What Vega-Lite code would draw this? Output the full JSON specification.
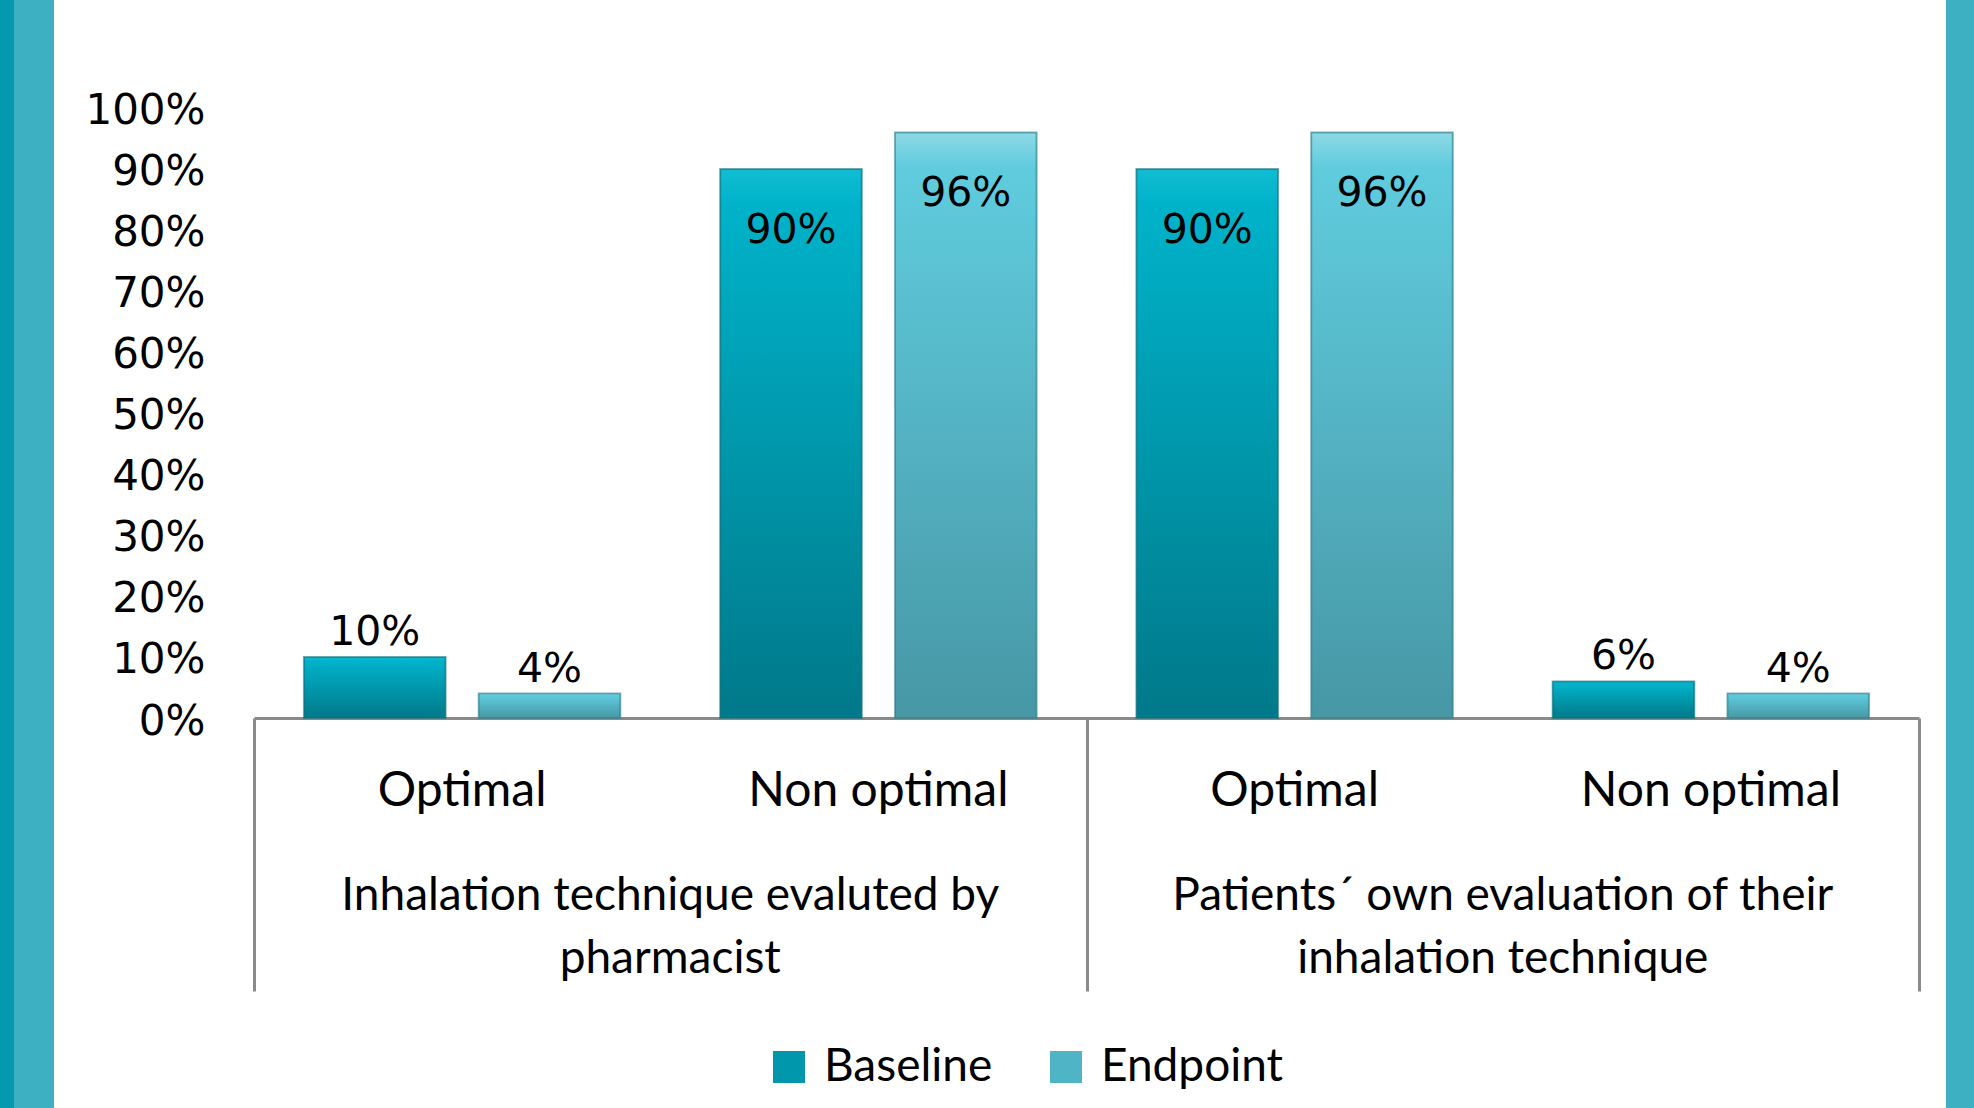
{
  "$schema": "https://vega.github.io/schema/vega-lite/v6.json",
  "padding": 0,
  "background": "white",
  "spacing": 25,
  "config": {"view": {"stroke": null}},
  "datasets": {
    "survey": [
      {"group": "Inhalation technique evaluted by pharmacist", "key": "1|Optimal", "series": "Baseline", "value": 0.10},
      {"group": "Inhalation technique evaluted by pharmacist", "key": "1|Optimal", "series": "Endpoint", "value": 0.04},
      {"group": "Inhalation technique evaluted by pharmacist", "key": "1|Non optimal", "series": "Baseline", "value": 0.90},
      {"group": "Inhalation technique evaluted by pharmacist", "key": "1|Non optimal", "series": "Endpoint", "value": 0.96},
      {"group": "Patients´ own evaluation of their inhalation technique", "key": "2|Optimal", "series": "Baseline", "value": 0.90},
      {"group": "Patients´ own evaluation of their inhalation technique", "key": "2|Optimal", "series": "Endpoint", "value": 0.96},
      {"group": "Patients´ own evaluation of their inhalation technique", "key": "2|Non optimal", "series": "Baseline", "value": 0.06},
      {"group": "Patients´ own evaluation of their inhalation technique", "key": "2|Non optimal", "series": "Endpoint", "value": 0.04}
    ],
    "blank": [{"k": 1}]
  },
  "hconcat": [
    {
      "spacing": 0,
      "hconcat": [
        {"data": {"name": "blank"}, "width": 14, "height": 1108, "view": {"fill": "#0399AE", "stroke": null}, "mark": {"type": "point", "opacity": 0}, "encoding": {}},
        {"data": {"name": "blank"}, "width": 40, "height": 1108, "view": {"fill": "#3DB1C2", "stroke": null}, "mark": {"type": "point", "opacity": 0}, "encoding": {}}
      ]
    },
    {
      "data": {"name": "survey"},
      "width": 1665,
      "height": 718,
      "layer": [
        {
          "encoding": {
            "x": {"field": "key", "type": "nominal", "sort": null,
              "scale": {"paddingInner": 0.24, "paddingOuter": 0.12},
              "axis": {"title": null, "labelExpr": "split(datum.value, '|')[1]", "labelAngle": 0, "labelLimit": 0,
                "ticks": false, "domainColor": "#8a8a8a", "domainWidth": 3,
                "labelFont": "Lato", "labelFontSize": 48, "labelColor": "#000", "labelPadding": 49, "grid": false}},
            "xOffset": {"field": "series", "type": "nominal", "sort": ["Baseline", "Endpoint"], "scale": {"paddingInner": 0.19, "paddingOuter": 0}},
            "y": {"field": "value", "type": "quantitative", "stack": null,
              "scale": {"domain": [0, 1.177], "nice": false, "zero": true},
              "axis": {"title": null, "values": [0, 0.1, 0.2, 0.3, 0.4, 0.5, 0.6, 0.7, 0.8, 0.9, 1.0], "format": ".0%",
                "ticks": false, "domain": false, "grid": false, "labelFont": "DejaVu Sans", "labelFontSize": 42,
                "labelColor": "#000", "labelPadding": 49, "labelOffset": 3, "minExtent": 175}}
          },
          "layer": [
            {
              "mark": {"type": "bar"},
              "encoding": {
                "color": {"field": "series", "type": "nominal", "sort": ["Baseline", "Endpoint"],
                  "scale": {"domain": ["Baseline", "Endpoint"], "range": ["#0096AC", "#4FB5C6"]},
                  "legend": {"title": null, "orient": "none", "legendX": 766, "legendY": 1044, "direction": "horizontal",
                    "symbolType": "square", "symbolSize": 1024, "symbolStrokeWidth": 0, "labelFont": "Lato", "labelFontSize": 46,
                    "labelColor": "#000", "labelOffset": 12, "columnPadding": 50, "padding": 0, "labelLimit": 0}}
              }
            },
            {
              "transform": [{"filter": "datum.series == 'Baseline'"}],
              "mark": {"type": "bar", "stroke": "#0b6f7d", "strokeWidth": 2, "strokeOpacity": 0.6,
                "color": {"gradient": "linear", "x1": 0, "y1": 0, "x2": 0, "y2": 1, "stops": [
                  {"offset": 0, "color": "#12BDD2"}, {"offset": 0.06, "color": "#00B3CA"}, {"offset": 1, "color": "#00798A"}]}}
            },
            {
              "transform": [{"filter": "datum.series == 'Endpoint'"}],
              "mark": {"type": "bar", "stroke": "#2f7f8c", "strokeWidth": 2, "strokeOpacity": 0.6,
                "color": {"gradient": "linear", "x1": 0, "y1": 0, "x2": 0, "y2": 1, "stops": [
                  {"offset": 0, "color": "#8ED9E6"}, {"offset": 0.06, "color": "#5FCCDE"}, {"offset": 1, "color": "#4797A5"}]}}
            },
            {
              "transform": [{"filter": "datum.value < 0.5"}],
              "mark": {"type": "text", "baseline": "middle", "dy": -24, "font": "DejaVu Sans", "fontSize": 41, "color": "#000"},
              "encoding": {"text": {"field": "value", "type": "quantitative", "format": ".0%"}}
            },
            {
              "transform": [{"filter": "datum.value >= 0.5"}],
              "mark": {"type": "text", "baseline": "middle", "dy": 62, "font": "DejaVu Sans", "fontSize": 41, "color": "#000"},
              "encoding": {"text": {"field": "value", "type": "quantitative", "format": ".0%"}}
            }
          ]
        },
        {
          "mark": {"type": "bar", "opacity": 0},
          "encoding": {
            "x": {"field": "group", "type": "nominal", "sort": null,
              "scale": {"paddingInner": 0, "paddingOuter": 0},
              "axis": {"title": null, "orient": "bottom", "labelAngle": 0, "domain": false, "grid": false,
                "ticks": false, "labelLimit": 0,
                "labelExpr": "datum.value == 'Inhalation technique evaluted by pharmacist' ? ['Inhalation technique evaluted by', 'pharmacist'] : ['Patients´ own evaluation of their', 'inhalation technique']",
                "labelFont": "Lato", "labelFontSize": 46, "labelColor": "#000",
                "labelLineHeight": 63, "labelPadding": 155}},
            "y": {"field": "value", "type": "quantitative", "stack": null}
          }
        },
        {
          "mark": {"type": "bar", "opacity": 0},
          "encoding": {
            "x": {"field": "group", "type": "nominal", "sort": null,
              "scale": {"paddingInner": 0, "paddingOuter": 0},
              "axis": {"title": null, "orient": "bottom", "labels": false, "domain": false, "grid": false,
                "ticks": true, "tickBand": "extent", "tickSize": 273, "tickColor": "#8a8a8a", "tickWidth": 3}},
            "y": {"field": "value", "type": "quantitative", "stack": null}
          }
        }
      ],
      "resolve": {"scale": {"x": "independent"}, "axis": {"x": "independent"}}
    },
    {"data": {"name": "blank"}, "width": 30, "height": 1108, "view": {"fill": "#3DB1C2", "stroke": null}, "mark": {"type": "point", "opacity": 0}, "encoding": {}}
  ]
}
